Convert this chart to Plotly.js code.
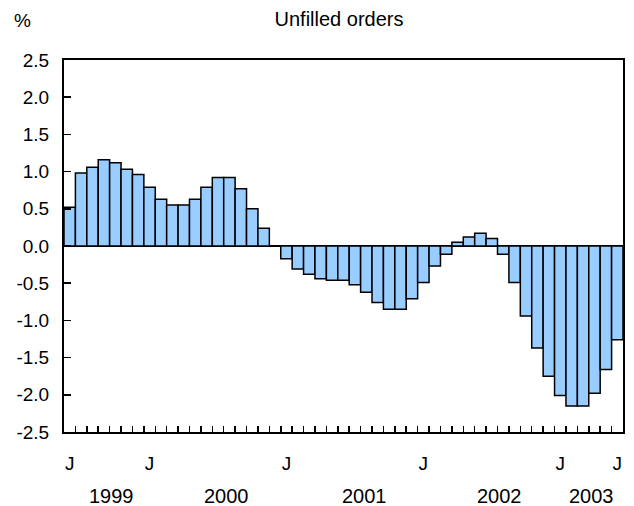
<!DOCTYPE html>
<html><head><meta charset="utf-8">
<script src="https://cdn.plot.ly/plotly-3.0.1.min.js"></script>
<style>html,body{margin:0;padding:0;background:#fff}#chart{width:634px;height:506px}</style>
</head><body><div id="chart"></div>
<script>
const months = [
  "1999-06","1999-07","1999-08","1999-09","1999-10","1999-11","1999-12",
  "2000-01","2000-02","2000-03","2000-04","2000-05","2000-06","2000-07","2000-08","2000-09","2000-10","2000-11","2000-12",
  "2001-01","2001-02","2001-03","2001-04","2001-05","2001-06","2001-07","2001-08","2001-09","2001-10","2001-11","2001-12",
  "2002-01","2002-02","2002-03","2002-04","2002-05","2002-06","2002-07","2002-08","2002-09","2002-10","2002-11","2002-12",
  "2003-01","2003-02","2003-03","2003-04","2003-05","2003-06"
];
const values = [
  0.52, 0.98, 1.06, 1.16, 1.12, 1.03, 0.96,
  0.79, 0.63, 0.55, 0.55, 0.63, 0.79, 0.92, 0.92, 0.77, 0.50, 0.24, 0.00,
  -0.17, -0.31, -0.38, -0.44, -0.46, -0.46, -0.52, -0.62, -0.76, -0.85, -0.85, -0.71,
  -0.49, -0.27, -0.11, 0.05, 0.12, 0.17, 0.10, -0.11, -0.49, -0.94, -1.37, -1.75,
  -2.01, -2.15, -2.15, -1.98, -1.66, -1.26
];
const labelledMonths = ["1999-06","2000-01","2001-01","2002-01","2003-01","2003-06"];
const monthLabel = "J";
const years = ["1999","2000","2001","2002","2003"];
const yearPos = [3.66, 13.7, 25.8, 37.7, 45.7];
const yTickVals = [2.5, 2.0, 1.5, 1.0, 0.5, 0.0, -0.5, -1.0, -1.5, -2.0, -2.5];
const yTickText = ["2.5","2.0","1.5","1.0","0.5","0.0","-0.5","-1.0","-1.5","-2.0","-2.5"];
const chartTitle = "Unfilled orders";
const unitLabel = "%";

const FONT = "Liberation Sans, Arial, sans-serif";
const xTickText = months.map(m => labelledMonths.includes(m) ? monthLabel : "");

const trace = {
  type: "bar",
  x: months,
  y: values,
  marker: {color: "#99CCFF", line: {color: "#000", width: 1.5}},
  hoverinfo: "skip"
};

const annotations = years.map((yr, i) => ({
  text: yr, x: yearPos[i], xref: "x", y: -0.171, yref: "paper",
  xanchor: "center", yanchor: "middle", showarrow: false,
  font: {family: FONT, size: 20, color: "#000"}
}));
annotations.push({
  text: unitLabel, x: -0.075, xref: "paper", y: 1.105, yref: "paper",
  xanchor: "center", yanchor: "middle", showarrow: false,
  font: {family: FONT, size: 19, color: "#000"}
});

const layout = {
  width: 634, height: 506,
  margin: {l: 64, r: 11, t: 60, b: 74, pad: 0},
  paper_bgcolor: "#fff", plot_bgcolor: "#fff",
  showlegend: false,
  bargap: 0,
  font: {family: FONT, size: 19, color: "#000"},
  title: {text: chartTitle, x: 0.492, xref: "paper", xanchor: "center",
          y: 1 - 19/506, yref: "container", yanchor: "middle",
          font: {family: FONT, size: 20, color: "#000"}},
  xaxis: {
    type: "category",
    range: [-0.5, months.length - 0.5],
    tickmode: "array", tickvals: months, ticktext: xTickText,
    tickson: "boundaries", tickangle: 0,
    ticks: "inside", ticklen: 6, tickwidth: 1.5, tickcolor: "#000",
    showline: true, linecolor: "#000", linewidth: 2, mirror: true,
    showgrid: false, zeroline: false,
    ticklabelstandoff: 13,
    tickfont: {family: FONT, size: 19, color: "#000"},
    fixedrange: true
  },
  yaxis: {
    range: [-2.5, 2.5],
    tickmode: "array", tickvals: yTickVals, ticktext: yTickText,
    ticks: "inside", ticklen: 7, tickwidth: 1.5, tickcolor: "#000",
    showline: true, linecolor: "#000", linewidth: 2, mirror: true,
    showgrid: false,
    zeroline: true, zerolinecolor: "#000", zerolinewidth: 1.5,
    ticklabelstandoff: 9,
    tickfont: {family: FONT, size: 19, color: "#000"},
    fixedrange: true
  },
  annotations: annotations
};

Plotly.newPlot("chart", [trace], layout, {staticPlot: true, displayModeBar: false});
</script>
</body></html>
